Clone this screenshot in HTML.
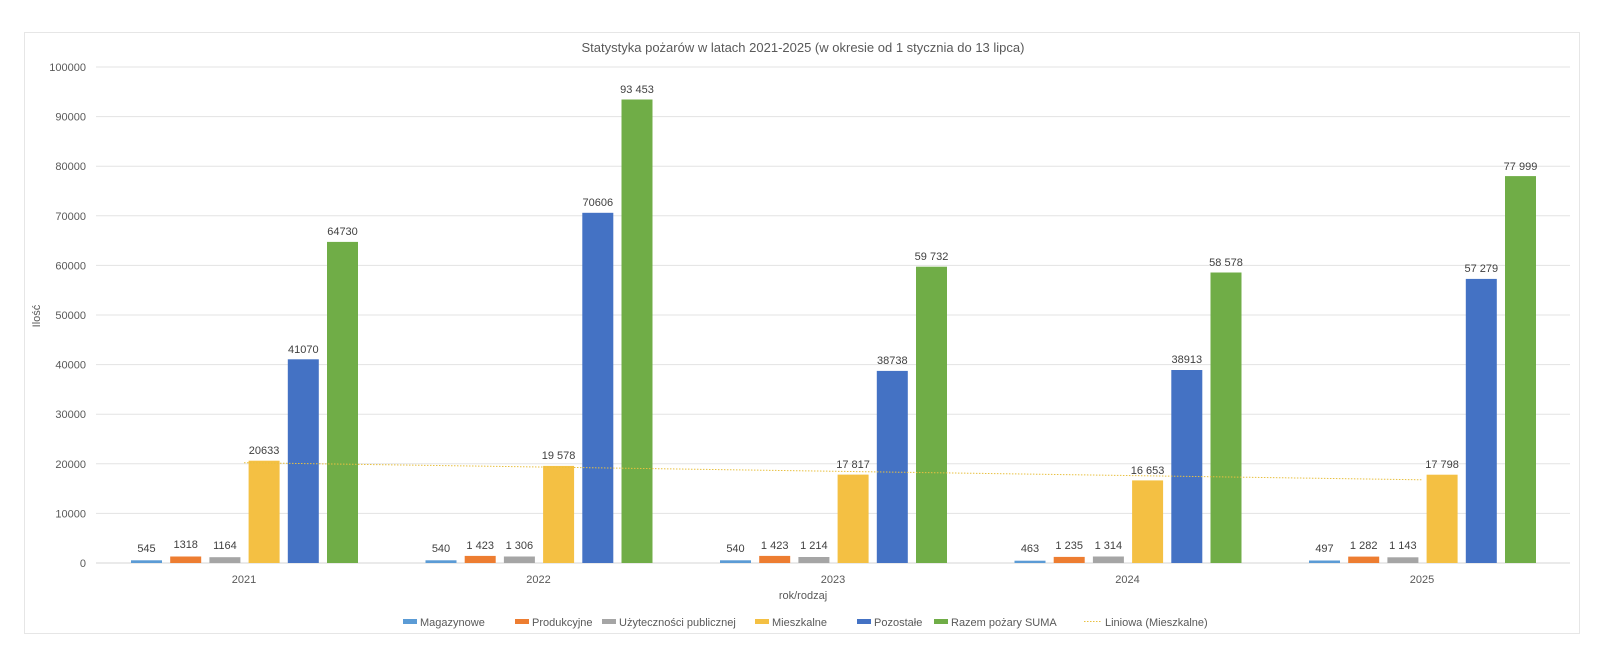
<!DOCTYPE html>
<html><head><meta charset="utf-8"><style>
html,body{margin:0;padding:0;background:#fff}
svg{display:block;font-family:"Liberation Sans",sans-serif}
.yl{font-size:11px;fill:#595959;text-anchor:end}
.dl{font-size:11px;fill:#404040;text-anchor:middle}
.xl{font-size:11px;fill:#595959;text-anchor:middle}
.lg{font-size:11px;fill:#595959}
</style></head><body>
<svg width="1600" height="653" viewBox="0 0 1600 653" xmlns="http://www.w3.org/2000/svg">
<rect x="24.5" y="32.5" width="1555" height="601" fill="#fff" stroke="#e6e6e6"/>
<text x="803" y="52" text-anchor="middle" font-size="13" fill="#595959">Statystyka pożarów w latach 2021-2025 (w okresie od 1 stycznia do 13 lipca)</text>
<g stroke="#e3e3e3" stroke-width="1">
<line x1="96" x2="1570" y1="67" y2="67"/><line x1="96" x2="1570" y1="116.6" y2="116.6"/><line x1="96" x2="1570" y1="166.2" y2="166.2"/><line x1="96" x2="1570" y1="215.8" y2="215.8"/><line x1="96" x2="1570" y1="265.4" y2="265.4"/><line x1="96" x2="1570" y1="315" y2="315"/><line x1="96" x2="1570" y1="364.6" y2="364.6"/><line x1="96" x2="1570" y1="414.2" y2="414.2"/><line x1="96" x2="1570" y1="463.8" y2="463.8"/><line x1="96" x2="1570" y1="513.4" y2="513.4"/><line x1="96" x2="1570" y1="563" y2="563" stroke="#d6d6d6"/>
</g>
<g class="yl">
<text x="86" y="71">100000</text><text x="86" y="120.6">90000</text><text x="86" y="170.2">80000</text><text x="86" y="219.8">70000</text><text x="86" y="269.4">60000</text><text x="86" y="319">50000</text><text x="86" y="368.6">40000</text><text x="86" y="418.2">30000</text><text x="86" y="467.8">20000</text><text x="86" y="517.4">10000</text><text x="86" y="567">0</text>
</g>
<text transform="translate(40,316) rotate(-90)" text-anchor="middle" font-size="11" fill="#595959">Ilość</text>
<!-- 2021 -->
<rect x="131" y="560.3" width="31" height="2.7" fill="#5B9BD5"/><rect x="170.2" y="556.5" width="31" height="6.5" fill="#ED7D31"/><rect x="209.4" y="557.2" width="31" height="5.8" fill="#A5A5A5"/><rect x="248.6" y="460.7" width="31" height="102.3" fill="#F4C043"/><rect x="287.8" y="359.3" width="31" height="203.7" fill="#4472C4"/><rect x="327" y="241.9" width="31" height="321.1" fill="#70AD47"/>
<!-- 2022 -->
<rect x="425.5" y="560.3" width="31" height="2.7" fill="#5B9BD5"/><rect x="464.7" y="555.9" width="31" height="7.1" fill="#ED7D31"/><rect x="503.9" y="556.5" width="31" height="6.5" fill="#A5A5A5"/><rect x="543.1" y="465.9" width="31" height="97.1" fill="#F4C043"/><rect x="582.3" y="212.8" width="31" height="350.2" fill="#4472C4"/><rect x="621.5" y="99.5" width="31" height="463.5" fill="#70AD47"/>
<!-- 2023 -->
<rect x="720" y="560.3" width="31" height="2.7" fill="#5B9BD5"/><rect x="759.2" y="555.9" width="31" height="7.1" fill="#ED7D31"/><rect x="798.4" y="557" width="31" height="6" fill="#A5A5A5"/><rect x="837.6" y="474.6" width="31" height="88.4" fill="#F4C043"/><rect x="876.8" y="370.9" width="31" height="192.1" fill="#4472C4"/><rect x="916" y="266.7" width="31" height="296.3" fill="#70AD47"/>
<!-- 2024 -->
<rect x="1014.5" y="560.7" width="31" height="2.3" fill="#5B9BD5"/><rect x="1053.7" y="556.9" width="31" height="6.1" fill="#ED7D31"/><rect x="1092.9" y="556.5" width="31" height="6.5" fill="#A5A5A5"/><rect x="1132.1" y="480.4" width="31" height="82.6" fill="#F4C043"/><rect x="1171.3" y="370" width="31" height="193" fill="#4472C4"/><rect x="1210.5" y="272.5" width="31" height="290.5" fill="#70AD47"/>
<!-- 2025 -->
<rect x="1309" y="560.5" width="31" height="2.5" fill="#5B9BD5"/><rect x="1348.2" y="556.6" width="31" height="6.4" fill="#ED7D31"/><rect x="1387.4" y="557.3" width="31" height="5.7" fill="#A5A5A5"/><rect x="1426.6" y="474.7" width="31" height="88.3" fill="#F4C043"/><rect x="1465.8" y="278.9" width="31" height="284.1" fill="#4472C4"/><rect x="1505" y="176.1" width="31" height="386.9" fill="#70AD47"/>
<line x1="244" y1="462.7" x2="1422" y2="479.8" stroke="#E8C040" stroke-width="1" stroke-dasharray="1.5,1.5"/>
<g class="dl">
<text x="146.5" y="552">545</text><text x="185.7" y="548">1318</text><text x="224.9" y="549">1164</text><text x="264.1" y="454">20633</text><text x="303.3" y="353">41070</text><text x="342.5" y="235">64730</text>
<text x="441" y="552">540</text><text x="480.2" y="549">1 423</text><text x="519.4" y="549">1 306</text><text x="558.6" y="459">19 578</text><text x="597.8" y="206">70606</text><text x="637" y="93">93 453</text>
<text x="735.5" y="552">540</text><text x="774.7" y="549">1 423</text><text x="813.9" y="549">1 214</text><text x="853.1" y="468">17 817</text><text x="892.3" y="364">38738</text><text x="931.5" y="260">59 732</text>
<text x="1030" y="552">463</text><text x="1069.2" y="549">1 235</text><text x="1108.4" y="549">1 314</text><text x="1147.6" y="474">16 653</text><text x="1186.8" y="363">38913</text><text x="1226" y="266">58 578</text>
<text x="1324.5" y="552">497</text><text x="1363.7" y="549">1 282</text><text x="1402.9" y="549">1 143</text><text x="1442.1" y="468">17 798</text><text x="1481.3" y="272">57 279</text><text x="1520.5" y="170">77 999</text>
</g>
<g class="xl">
<text x="244" y="583">2021</text><text x="538.5" y="583">2022</text><text x="833" y="583">2023</text><text x="1127.5" y="583">2024</text><text x="1422" y="583">2025</text>
<text x="803" y="599">rok/rodzaj</text>
</g>
<g class="lg">
<rect x="403" y="619" width="14" height="5" fill="#5B9BD5"/><text x="420" y="626">Magazynowe</text>
<rect x="515" y="619" width="14" height="5" fill="#ED7D31"/><text x="532" y="626">Produkcyjne</text>
<rect x="602" y="619" width="14" height="5" fill="#A5A5A5"/><text x="619" y="626">Użyteczności publicznej</text>
<rect x="755" y="619" width="14" height="5" fill="#F4C043"/><text x="772" y="626">Mieszkalne</text>
<rect x="857" y="619" width="14" height="5" fill="#4472C4"/><text x="874" y="626">Pozostałe</text>
<rect x="934" y="619" width="14" height="5" fill="#70AD47"/><text x="951" y="626">Razem pożary SUMA</text>
<line x1="1084" y1="621.5" x2="1102" y2="621.5" stroke="#E8C040" stroke-dasharray="1.5,1.5"/><text x="1105" y="626">Liniowa (Mieszkalne)</text>
</g>
</svg>
</body></html>
